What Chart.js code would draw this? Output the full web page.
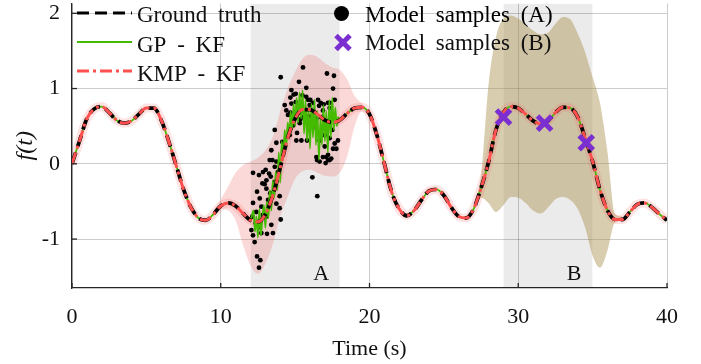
<!DOCTYPE html>
<html>
<head>
<meta charset="utf-8">
<script src="https://cdn.jsdelivr.net/npm/chart.js@4.4.1/dist/chart.umd.min.js"></script>
<style>
  html, body { margin: 0; padding: 0; background: #fff; }
</style>
</head>
<body>
<canvas id="myChart" width="701" height="364"></canvas>
<script>
// time grid of the smooth curves, every 0.5 s
const tGrid = [];
for (let i = 0; i <= 80; i++) tGrid.push(i / 2);

// ground truth f(t) (KMP - KF and GP - KF sit on it outside region A)
const groundTruth = [
  0.00, 0.30, 0.60, 0.73, 0.76, 0.68, 0.58, 0.54, 0.57, 0.66,
  0.74, 0.74, 0.58, 0.30, -0.02, -0.34, -0.58, -0.72, -0.75, -0.67,
  -0.56, -0.52, -0.56, -0.66, -0.75, -0.77, -0.67, -0.42, -0.05, 0.34,
  0.60, 0.72, 0.72, 0.66, 0.58, 0.55, 0.58, 0.67, 0.74, 0.75,
  0.66, 0.38, 0.00, -0.38, -0.60, -0.69, -0.62, -0.48, -0.36, -0.34,
  -0.42, -0.58, -0.70, -0.72, -0.60, -0.32, 0.02, 0.45, 0.68, 0.76,
  0.74, 0.66, 0.57, 0.53, 0.57, 0.68, 0.75, 0.74, 0.62, 0.34,
  0.03, -0.35, -0.62, -0.74, -0.74, -0.64, -0.54, -0.52, -0.58, -0.67,
  -0.75
];
const kmpMean = groundTruth;

// GP - KF inside region A (noisy part), every 0.1 s from 12.2 to 17.9
const gpNoisyT = [
  12.2, 12.3, 12.4, 12.5, 12.6, 12.7, 12.8, 12.9, 13.0, 13.1,
  13.2, 13.3, 13.4, 13.5, 13.6, 13.7, 13.8, 13.9, 14.0, 14.1,
  14.2, 14.3, 14.4, 14.5, 14.6, 14.7, 14.8, 14.9, 15.0, 15.1,
  15.2, 15.3, 15.4, 15.5, 15.6, 15.7, 15.8, 15.9, 16.0, 16.1,
  16.2, 16.3, 16.4, 16.5, 16.6, 16.7, 16.8, 16.9, 17.0, 17.1,
  17.2, 17.3, 17.4, 17.5, 17.6, 17.7, 17.8, 17.9
];
const gpNoisyY = [
  -0.62, -0.90, -0.70, -0.98, -0.60, -0.95, -0.72, -0.55, -0.85, -0.50,
  -0.72, -0.35, -0.62, -0.22, -0.45, -0.10, -0.35, 0.15, -0.25, 0.30,
  0.05, 0.45, 0.20, 0.55, 0.35, 0.70, 0.45, 0.80, 0.50, 0.88,
  0.55, 0.95, 0.60, 0.98, 0.40, 0.85, 0.30, 0.75, 0.20, 0.80,
  0.35, 0.85, 0.25, 0.70, 0.05, 0.60, 0.25, 0.78, 0.30, 0.70,
  0.15, 0.85, 0.35, 0.88, 0.45, 0.75, 0.50, 0.62
];

// KMP uncertainty band around region A
const bandAT = [9.5, 10, 10.5, 11, 11.5, 12, 12.5, 13, 13.5, 14, 14.5, 15, 15.5, 16, 16.5, 17, 17.5, 18, 18.5, 19, 19.5, 20];
const bandAUpper = [-0.63, -0.47, -0.30, -0.12, -0.02, 0.03, 0.08, 0.18, 0.36, 0.70, 1.00, 1.22, 1.40, 1.45, 1.42, 1.34, 1.28, 1.25, 1.12, 0.90, 0.80, 0.70];
const bandALower = [-0.72, -0.60, -0.62, -0.75, -1.08, -1.35, -1.46, -1.33, -1.07, -0.70, -0.44, -0.20, -0.10, -0.08, -0.12, -0.16, -0.17, -0.12, 0.10, 0.50, 0.70, 0.62];

// uncertainty band around region B
const bandBT = [27, 27.5, 28, 28.5, 29, 29.5, 30, 30.5, 31, 31.5, 32, 32.5, 33, 33.5, 34, 34.5, 35, 35.5, 36, 36.5, 37];
const bandBUpper = [-0.56, -0.15, 1.05, 1.68, 1.93, 1.97, 1.93, 1.85, 1.77, 1.72, 1.74, 1.86, 1.95, 1.92, 1.73, 1.48, 1.15, 0.80, 0.15, -0.66, -0.70];
const bandBLower = [-0.64, -0.45, -0.52, -0.64, -0.55, -0.44, -0.45, -0.52, -0.62, -0.66, -0.58, -0.47, -0.44, -0.48, -0.60, -0.85, -1.22, -1.38, -1.15, -0.78, -0.76];

// model samples (A)
const samplesAT = [
  15.53, 14.03, 17.14, 17.61, 15.26, 15.75, 17.55, 14.90, 14.68, 14.30,
  14.41, 15.04, 15.19, 16.20, 16.72, 17.21, 16.87, 16.25, 16.43, 16.76,
  17.32, 17.66, 14.68, 14.86, 15.31, 14.63, 15.13, 15.42, 15.80, 16.65,
  16.99, 17.21, 17.43, 17.66, 17.77, 16.43, 16.65, 17.10, 17.32, 16.16,
  16.49, 14.14, 14.30, 13.74, 13.47, 13.02, 12.17, 12.57, 12.84, 13.25,
  13.36, 13.07, 13.63, 12.95, 13.07, 13.51, 13.96, 12.17, 12.73, 12.39,
  13.96, 12.84, 14.03, 13.40, 12.06, 12.62, 12.17, 13.11, 12.28, 12.44,
  12.66, 12.57, 14.52, 15.53, 15.87, 16.54, 15.49, 14.75, 15.98, 17.50,
  17.77, 17.88, 17.05, 15.35, 13.63, 13.33, 13.85, 12.62, 13.40, 13.74,
  14.75, 15.04, 15.75, 16.02, 16.61, 16.92, 17.32, 15.35, 15.93, 16.31,
  16.99, 17.32, 17.55, 16.87, 16.47, 17.05, 17.21, 15.08, 13.63, 13.29,
  12.80, 12.44, 13.69, 13.18, 13.74, 12.13, 12.35, 13.07, 13.51, 12.73
];
const samplesAY = [
  1.28, 1.15, 1.20, 1.17, 1.09, 1.01, 1.00, 0.92, 0.88, 0.78,
  0.71, 0.82, 0.76, 0.81, 0.81, 0.81, 0.71, 0.67, 0.60, 0.62,
  0.74, 0.85, 0.68, 0.51, 0.54, 0.38, 0.41, 0.31, 0.31, 0.31,
  0.23, 0.12, 0.07, 0.27, 0.20, 0.09, 0.03, 0.09, 0.05, -0.18,
  -0.43, 0.29, 0.23, 0.28, 0.05, -0.08, -0.12, -0.15, -0.11, -0.13,
  -0.17, -0.22, -0.24, -0.27, -0.33, -0.39, -0.43, -0.52, -0.57, -0.64,
  -0.59, -0.68, -0.74, -0.81, -0.88, -0.84, -0.95, -0.93, -1.04, -1.23,
  -1.28, -1.38, 0.65, 0.62, 0.85, 0.85, 0.91, 0.80, 0.78, 0.45,
  0.56, 0.31, 0.49, 0.59, -0.04, -0.39, -0.11, -0.46, 0.18, 0.03,
  0.98, 0.93, 0.89, 0.85, 0.77, 0.79, 0.81, 0.68, 0.63, 0.49,
  0.38, 0.34, 0.20, 0.09, 0.05, 0.01, 0.05, 0.31, 0.45, 0.05,
  -0.26, -0.37, -0.31, -0.48, -0.53, -0.70, -0.79, -0.70, -0.92, -0.92
];

// model samples (B)
const samplesBT = [29.01, 31.77, 34.57];
const samplesBY = [0.62, 0.54, 0.28];

// shaded regions
const regionNames = ['A', 'B'];
const regionStart = [12, 29];
const regionEnd = [18, 35];

const xTicks = [0, 10, 20, 30, 40];
const yTicks = [-1, 0, 1, 2];
const Y_MIN = -1.65, Y_MAX = 2.13;

const SERIF = "'Liberation Serif', 'DejaVu Serif', serif";
const GRID = 'rgba(0,0,0,0.2)';
const AXIS = '#262626';
const RED = '#ff5050';
const GREEN = '#44bb00';
const PURPLE = '#7b2fd0';

const pts = (ts, ys) => ts.map((t, i) => ({ x: t, y: ys[i] }));

// GP - KF: ground truth outside A, noisy estimate inside
const gpPoints = pts(tGrid, groundTruth).filter(p => p.x < gpNoisyT[0] || p.x > gpNoisyT[gpNoisyT.length - 1])
  .concat(pts(gpNoisyT, gpNoisyY))
  .sort((a, b) => a.x - b.x);

const plain = { pointRadius: 0, borderWidth: 0, cubicInterpolationMode: 'monotone' };

const datasets = [
  // 0,1 grey regions
  { ...plain, data: [{ x: regionStart[0], y: Y_MAX }, { x: regionEnd[0], y: Y_MAX }], fill: 'start', backgroundColor: 'rgba(0,0,0,0.08)', order: 20 },
  { ...plain, data: [{ x: regionStart[1], y: Y_MAX }, { x: regionEnd[1], y: Y_MAX }], fill: 'start', backgroundColor: 'rgba(0,0,0,0.08)', order: 20 },
  // 2,3 band A
  { ...plain, data: pts(bandAT, bandAUpper), fill: false, order: 15 },
  { ...plain, data: pts(bandAT, bandALower), fill: 2, backgroundColor: 'rgba(240,80,80,0.22)', order: 15 },
  // 4,5 band B
  { ...plain, data: pts(bandBT, bandBUpper), fill: false, order: 14 },
  { ...plain, data: pts(bandBT, bandBLower), fill: 4, backgroundColor: 'rgba(170,145,80,0.45)', order: 14 },
  // 6 thin KMP halo
  { ...plain, data: pts(tGrid, kmpMean), borderWidth: 9, borderColor: 'rgba(240,90,80,0.16)', fill: false, order: 12 },
  // 7 samples A
  { label: 'Model samples (A)', data: pts(samplesAT, samplesAY), showLine: false, pointRadius: 2.4, pointBackgroundColor: '#000', pointBorderWidth: 0, order: 10 },
  // 8 GP
  { label: 'GP - KF', data: gpPoints, borderColor: GREEN, borderWidth: 1.8, pointRadius: 0, fill: false, cubicInterpolationMode: 'monotone', order: 8 },
  // 9 ground truth
  { label: 'Ground truth', data: pts(tGrid, groundTruth), borderColor: '#000', borderWidth: 3.8, borderDash: [12, 6], pointRadius: 0, fill: false, cubicInterpolationMode: 'monotone', order: 6 },
  // 10 KMP
  { label: 'KMP - KF', data: pts(tGrid, kmpMean), borderColor: RED, borderWidth: 3, borderDash: [12, 4, 3, 4], pointRadius: 0, fill: false, cubicInterpolationMode: 'monotone', order: 4 },
  // 11 samples B
  { label: 'Model samples (B)', data: pts(samplesBT, samplesBY), showLine: false, pointStyle: 'crossRot', pointRadius: 10, pointBorderWidth: 5, pointBorderColor: PURPLE, order: 2 }
];

function seg(ctx, x1, y1, x2, y2) {
  ctx.beginPath(); ctx.moveTo(x1, y1); ctx.lineTo(x2, y2); ctx.stroke();
}

const overlay = {
  id: 'overlay',
  afterDraw(chart) {
    const ctx = chart.ctx;
    const xs = chart.scales.x, ys = chart.scales.y, a = chart.chartArea;
    ctx.save();

    // inward tick marks
    ctx.strokeStyle = AXIS; ctx.lineWidth = 1.3;
    xTicks.forEach(v => { const p = xs.getPixelForValue(v); seg(ctx, p, a.bottom, p, a.bottom - 5); });
    yTicks.forEach(v => { const p = ys.getPixelForValue(v); seg(ctx, a.left, p, a.left + 5, p); });

    // region letters
    ctx.fillStyle = '#111';
    ctx.font = '22px ' + SERIF;
    ctx.textAlign = 'center';
    ctx.textBaseline = 'alphabetic';
    regionNames.forEach((n, i) => {
      const x = xs.getPixelForValue(regionEnd[i] - 1.25);
      ctx.fillText(n, x, ys.getPixelForValue(-1.545));
    });

    // legend
    ctx.font = '23px ' + SERIF;
    ctx.textAlign = 'left';
    try { ctx.wordSpacing = '5px'; } catch (e) {}
    const ds = chart.data.datasets;
    const col1 = [ds[9], ds[8], ds[10]];
    const lineY = [13, 42, 71], baseY = [22, 52, 81];
    col1.forEach((d, i) => {
      ctx.strokeStyle = d.borderColor;
      ctx.lineWidth = Math.min(d.borderWidth, 3.2);
      ctx.setLineDash(d.borderDash || []);
      seg(ctx, 77, lineY[i], 132, lineY[i]);
      ctx.setLineDash([]);
      ctx.fillStyle = '#111';
      ctx.fillText(d.label, 137, baseY[i]);
    });
    // samples A
    ctx.fillStyle = '#000';
    ctx.beginPath(); ctx.arc(341.5, 13.5, 7.5, 0, Math.PI * 2); ctx.fill();
    ctx.fillText(ds[7].label, 365, 22);
    // samples B
    ctx.strokeStyle = PURPLE; ctx.lineWidth = 5;
    seg(ctx, 336, 35.5, 350, 49.5);
    seg(ctx, 336, 49.5, 350, 35.5);
    ctx.fillStyle = '#111';
    ctx.fillText(ds[11].label, 365, 50);
    ctx.restore();
  }
};

const tickFont = { family: SERIF, size: 22 };

new Chart(document.getElementById('myChart'), {
  type: 'line',
  data: { datasets },
  options: {
    responsive: false,
    animation: false,
    events: [],
    layout: { autoPadding: false, padding: { left: 0, right: 34, top: 3.5, bottom: 0 } },
    plugins: { legend: { display: false }, tooltip: { enabled: false } },
    scales: {
      x: {
        type: 'linear', min: 0, max: 40,
        afterBuildTicks: s => { s.ticks = xTicks.map(v => ({ value: v })); },
        afterFit: s => { s.height = 76; s.paddingLeft = 0; s.paddingRight = 0; },
        grid: { color: GRID, drawTicks: false },
        border: { color: AXIS, width: 1.3 },
        ticks: { padding: 16, color: '#111', font: tickFont, maxRotation: 0 },
        title: { display: true, text: 'Time (s)', color: '#111', font: tickFont, padding: { top: 0, bottom: 2 } }
      },
      y: {
        type: 'linear', min: Y_MIN, max: Y_MAX,
        afterBuildTicks: s => { s.ticks = yTicks.map(v => ({ value: v })); },
        afterFit: s => { s.width = 72; s.paddingTop = 0; s.paddingBottom = 0; },
        grid: { color: GRID, drawTicks: false },
        border: { color: AXIS, width: 1.3 },
        ticks: { padding: 12, color: '#111', font: tickFont },
        title: { display: true, text: 'f(t)', color: '#111', font: { family: SERIF, size: 24, style: 'italic' }, padding: { top: 11, bottom: 0 } }
      }
    }
  },
  plugins: [overlay]
});
</script>
</body>
</html>
